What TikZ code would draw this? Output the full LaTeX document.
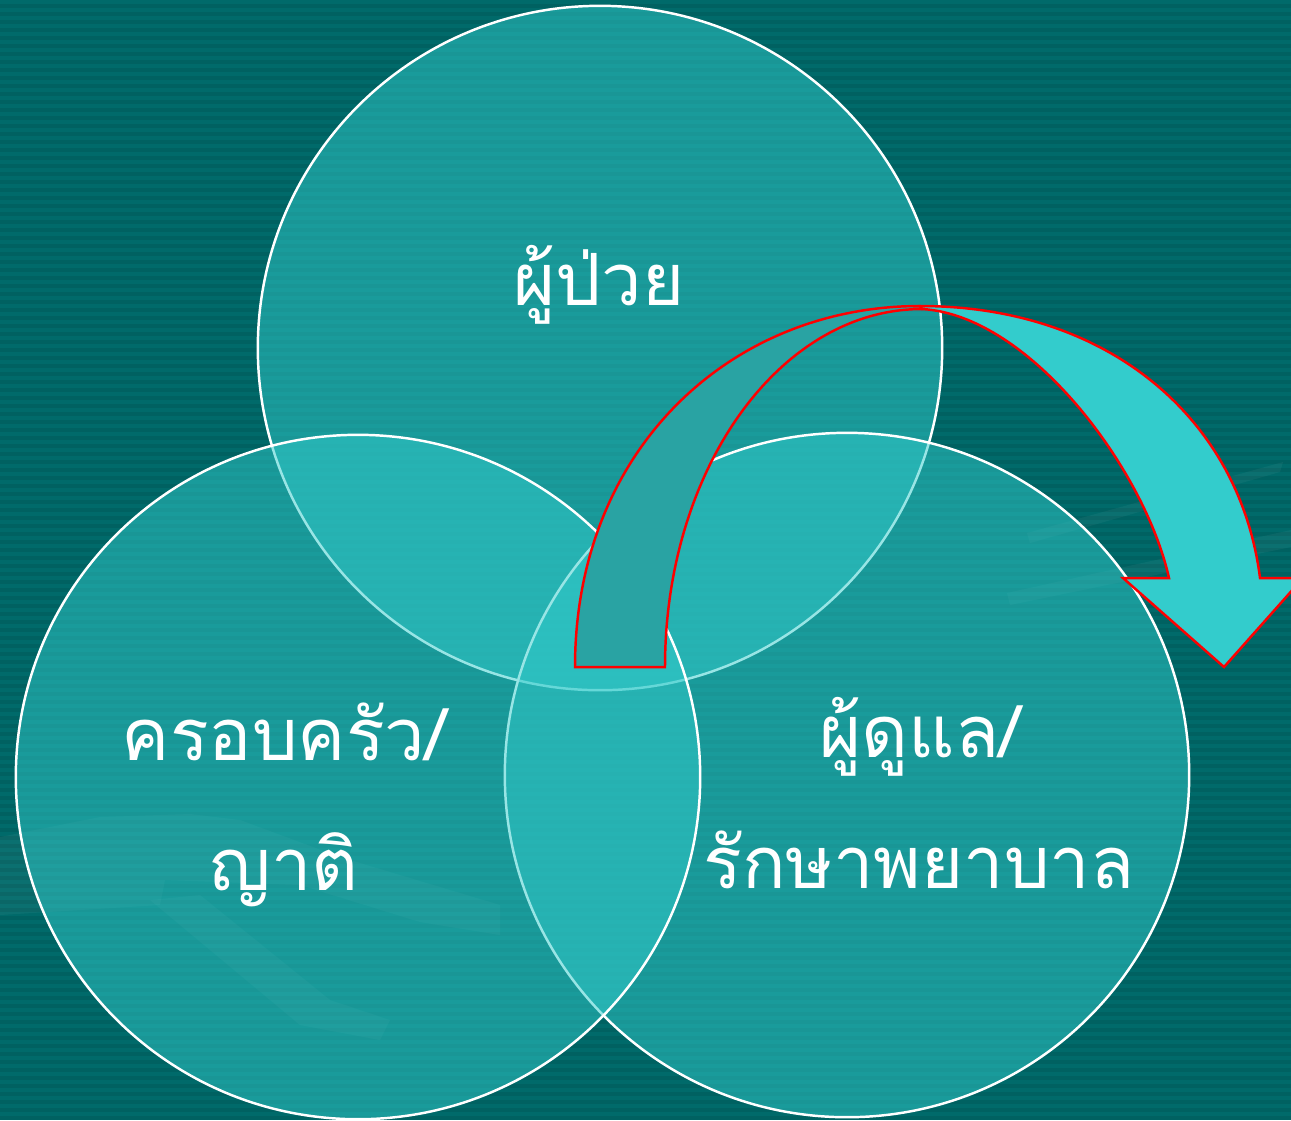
\documentclass[tikz,border=0pt]{standalone}
\usepackage{fontspec}
\newfontfamily\thaifont[Script=Thai]{Loma}
\definecolor{bgA}{HTML}{006A6A}
\definecolor{bgB}{HTML}{006161}
\definecolor{circfill}{HTML}{33CCCC}
\definecolor{arrowback}{HTML}{29A3A3}
\definecolor{arrowline}{HTML}{FF0000}
\tikzset{
  circ/.style={circle, minimum size=6.84cm, inner sep=0pt, outer sep=0pt,
    fill=circfill, fill opacity=0.5, draw=white, draw opacity=1, line width=0.7pt},
  lbl/.style={text=white, font=\thaifont\fontsize{20.5}{24}\selectfont, anchor=base, inner sep=0pt},
  ghost/.style={fill=white, fill opacity=0.045},
  arrowpart/.style={draw=arrowline, line width=0.7pt, line join=miter}
}
\begin{document}
\begin{tikzpicture}[x=0.01cm, y=-0.01cm]
\useasboundingbox (0,0) rectangle (1291,1120);
\clip (0,0) rectangle (1291,1120);
% background with stripes
\fill[bgA] (0,0) rectangle (1291,1120);
\foreach \i in {0,...,139} \fill[bgB] (0,{\i*8+4}) rectangle (1291,{\i*8+8});
% faint background graphics
\fill[ghost] (1007,593) -- (1010,605) -- (1291,547) -- (1291,530) -- cycle;
\fill[ghost] (1027,533) -- (1030,543) -- (1280,472) -- (1283,462) -- cycle;
\fill[ghost] (0,837) -- (100,817) -- (190,814) -- (240,820) -- (340,857) -- (500,905)
  -- (500,935) -- (420,922) -- (300,885) -- (165,880) -- (160,905) -- (0,915) -- cycle;
\fill[ghost] (150,900) -- (200,895) -- (330,1000) -- (390,1020) -- (380,1040) -- (300,1025) -- cycle;
% circles
\node[circ] (top) at (600,348) {};
\node[circ] (right) at (847,775) {};
\node[circ] (left) at (358,777) {};
% curved arrow: rear (rising) part
\filldraw[arrowpart, fill=arrowback]
  (575,667) .. controls (575,450) and (730,306) .. (920,306)
  -- (922,309) .. controls (780,309) and (665,469) .. (665,667) -- cycle;
% front (descending) part with head
\filldraw[arrowpart, fill=circfill]
  (920,306) .. controls (1110,306) and (1240,420) .. (1260,578)
  -- (1303,578) -- (1224,667) -- (1123,578) -- (1169,578)
  .. controls (1145,470) and (1030,315) .. (922,309) -- cycle;
% labels
\node[lbl] (tpatient) at (599,305) {ผู้ป่วย};
\node[lbl] (tfam1) at (284,760) {ครอบครัว/};
\node[lbl] (tfam2) at (284,890) {ญาติ};
\node[lbl] (tcare1) at (920,757) {ผู้ดูแล/};
\node[lbl] (tcare2) at (919,888) {รักษาพยาบาล};
\end{tikzpicture}
\end{document}
